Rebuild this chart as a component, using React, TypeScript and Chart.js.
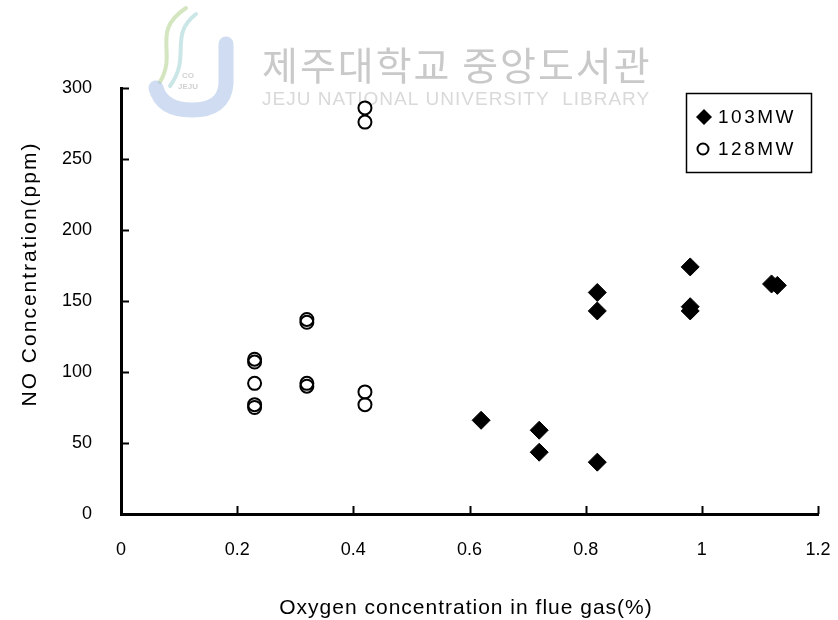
import React, { useEffect, useRef } from "react";
import { Chart, registerables } from "chart.js";

Chart.register(...registerables);

// Series: NO concentration vs. flue-gas oxygen at two boiler loads
const SERIES_NAMES = ["103MW", "128MW"];
const O2_103MW = [0.62, 0.72, 0.72, 0.82, 0.82, 0.82, 0.98, 0.98, 0.98, 1.12, 1.13];
const NO_103MW = [66, 59, 43.5, 156, 143, 36.5, 174, 146, 143, 162, 161];
const O2_128MW = [0.23, 0.23, 0.23, 0.23, 0.23, 0.32, 0.32, 0.32, 0.32, 0.42, 0.42, 0.42, 0.42];
const NO_128MW = [109, 107, 92, 77, 75, 137, 135, 92, 90, 286, 276, 86, 77];

// Axes
const X_TICKS = [0, 0.2, 0.4, 0.6, 0.8, 1, 1.2];
const X_TICK_LABELS = ["0", "0.2", "0.4", "0.6", "0.8", "1", "1.2"];
const Y_TICKS = [0, 50, 100, 150, 200, 250, 300];
const Y_TICK_LABELS = ["0", "50", "100", "150", "200", "250", "300"];
const X_TITLE = "Oxygen concentration in flue gas(%)";
const Y_TITLE = "NO Concentration(ppm)";

// Library stamp across the top
const STAMP_KO = "제주대학교 중앙도서관";
const STAMP_EN = "JEJU NATIONAL UNIVERSITY  LIBRARY";

const FONT = '"Liberation Sans", Arial, Helvetica, sans-serif';

const stampPlugin = {
  id: "stamp",
  beforeDatasetsDraw(chart: any) {
    const ctx = chart.ctx as CanvasRenderingContext2D;
    ctx.save();
    // logo: green/teal swooshes
    ctx.lineCap = "round";
    ctx.lineWidth = 4;
    ctx.strokeStyle = "rgba(170,205,130,0.5)";
    ctx.beginPath();
    ctx.moveTo(186, 8);
    ctx.bezierCurveTo(150, 32, 178, 52, 160, 82);
    ctx.stroke();
    ctx.strokeStyle = "rgba(140,200,200,0.45)";
    ctx.beginPath();
    ctx.moveTo(196, 14);
    ctx.bezierCurveTo(168, 36, 192, 56, 170, 86);
    ctx.stroke();
    // logo: blue J
    ctx.lineWidth = 15;
    ctx.strokeStyle = "rgba(160,185,228,0.5)";
    ctx.beginPath();
    ctx.moveTo(226, 44);
    ctx.lineTo(226, 84);
    ctx.quadraticCurveTo(224, 110, 192, 110);
    ctx.quadraticCurveTo(162, 110, 156, 88);
    ctx.stroke();
    ctx.fillStyle = "rgba(150,150,150,0.45)";
    ctx.font = `bold 8px ${FONT}`;
    ctx.textAlign = "center";
    ctx.fillText("CO", 188, 78);
    ctx.fillText("JEJU", 188, 89);
    // text
    ctx.textAlign = "left";
    ctx.textBaseline = "middle";
    ctx.fillStyle = "#c9c9c9";
    ctx.font = `39px "Noto Sans CJK KR", sans-serif`;
    (ctx as any).letterSpacing = "2px";
    ctx.fillText(STAMP_KO, 262, 65);
    ctx.fillStyle = "#d9d9d9";
    ctx.font = `19px ${FONT}`;
    (ctx as any).letterSpacing = "1px";
    ctx.fillText(STAMP_EN, 262, 100);
    ctx.restore();
  },
};

const axisDecorPlugin = {
  id: "axisDecor",
  afterDraw(chart: any) {
    const ctx = chart.ctx as CanvasRenderingContext2D;
    const xs = chart.scales.x;
    const ys = chart.scales.y;
    const { left, bottom } = chart.chartArea;
    ctx.save();
    ctx.strokeStyle = "#000";
    ctx.lineWidth = 2;
    // inward tick marks
    Y_TICKS.forEach((v) => {
      if (v === Y_TICKS[0]) return;
      const y = Math.round(ys.getPixelForValue(v)) + 0.5;
      ctx.beginPath();
      ctx.moveTo(left, y);
      ctx.lineTo(left + 8, y);
      ctx.stroke();
    });
    X_TICKS.forEach((v) => {
      if (v === X_TICKS[0]) return;
      const x = Math.round(xs.getPixelForValue(v)) + 0.5;
      ctx.beginPath();
      ctx.moveTo(x, bottom);
      ctx.lineTo(x, bottom - 8);
      ctx.stroke();
    });

    // axis titles
    ctx.fillStyle = "#000";
    ctx.textAlign = "center";
    ctx.textBaseline = "middle";
    ctx.font = `21px ${FONT}`;
    (ctx as any).letterSpacing = "1px";
    ctx.fillText(X_TITLE, 466, 608);
    ctx.translate(30, 274);
    ctx.rotate(-Math.PI / 2);
    (ctx as any).letterSpacing = "2px";
    ctx.fillText(Y_TITLE, 0, 0);
    ctx.restore();

    // legend box
    ctx.save();
    ctx.strokeStyle = "#000";
    ctx.lineWidth = 1.5;
    ctx.strokeRect(686.5, 93.5, 125, 79);
    ctx.font = `19px ${FONT}`;
    (ctx as any).letterSpacing = "2.5px";
    ctx.textBaseline = "middle";
    ctx.fillStyle = "#000";
    const rows = [117, 149];
    chart.data.datasets.forEach((ds: any, i: number) => {
      const cy = rows[i];
      const cx = 704;
      ctx.beginPath();
      if (ds.pointStyle === "rectRot") {
        ctx.moveTo(cx, cy - 8);
        ctx.lineTo(cx + 8, cy);
        ctx.lineTo(cx, cy + 8);
        ctx.lineTo(cx - 8, cy);
        ctx.closePath();
        ctx.fill();
      } else {
        ctx.lineWidth = 2;
        ctx.arc(cx - 1, cy, 5.5, 0, Math.PI * 2);
        ctx.stroke();
      }
      ctx.fillText(ds.label, 718, cy + 1);
    });
    ctx.restore();
  },
};

export default function App() {
  const canvasRef = useRef<HTMLCanvasElement | null>(null);

  useEffect(() => {
    if (!canvasRef.current) return;
    const chart = new Chart(canvasRef.current, {
      type: "scatter",
      data: {
        datasets: [
          {
            label: SERIES_NAMES[0],
            data: O2_103MW.map((x, i) => ({ x, y: NO_103MW[i] })),
            pointStyle: "rectRot",
            pointRadius: 9,
            backgroundColor: "#000",
            borderColor: "#000",
            borderWidth: 1,
          },
          {
            label: SERIES_NAMES[1],
            data: O2_128MW.map((x, i) => ({ x, y: NO_128MW[i] })),
            pointStyle: "circle",
            pointRadius: 6.5,
            backgroundColor: "rgba(255,255,255,0)",
            borderColor: "#000",
            borderWidth: 2,
          },
        ],
      },
      options: {
        animation: false,
        responsive: false,
        devicePixelRatio: 1,
        layout: { padding: { left: 0, top: 88, right: 20, bottom: 0 } },
        plugins: {
          legend: { display: false },
          tooltip: { enabled: false },
        },
        scales: {
          x: {
            type: "linear",
            min: 0,
            max: 1.2,
            afterBuildTicks: (s: any) => {
              s.ticks = X_TICKS.map((value) => ({ value }));
            },
            afterFit: (s: any) => {
              s.height = 106;
              s.paddingLeft = 0;
              s.paddingRight = 0;
            },
            ticks: {
              autoSkip: false,
              maxRotation: 0,
              padding: 25,
              color: "#000",
              font: { family: FONT, size: 18 },
              callback: (_v: any, i: number) => X_TICK_LABELS[i],
            },
            grid: { display: true, drawOnChartArea: false, drawTicks: false },
            border: { display: true, color: "#000", width: 3 },
            title: { display: false },
          },
          y: {
            type: "linear",
            min: 0,
            max: 300,
            afterBuildTicks: (s: any) => {
              s.ticks = Y_TICKS.map((value) => ({ value }));
            },
            afterFit: (s: any) => {
              s.width = 121;
              s.paddingTop = 0;
              s.paddingBottom = 0;
            },
            ticks: {
              autoSkip: false,
              padding: 29,
              color: "#000",
              font: { family: FONT, size: 18 },
              callback: (_v: any, i: number) => Y_TICK_LABELS[i],
            },
            grid: { display: true, drawOnChartArea: false, drawTicks: false },
            border: { display: true, color: "#000", width: 3 },
            title: { display: false },
          },
        },
      },
      plugins: [stampPlugin, axisDecorPlugin],
    } as any);
    return () => chart.destroy();
  }, []);

  return (
    <div style={{ position: "absolute", left: 0, top: 0, width: 838, height: 620, background: "#fff" }}>
      <canvas ref={canvasRef} width={838} height={620} style={{ display: "block" }} />
    </div>
  );
}
